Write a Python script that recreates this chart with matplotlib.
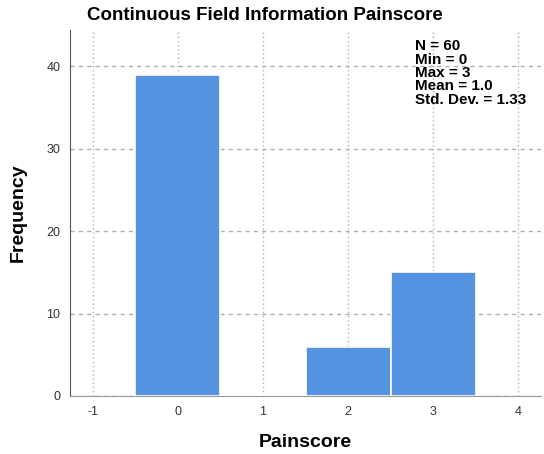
import matplotlib
matplotlib.use('Agg')
import matplotlib.pyplot as plt

# histogram data
scores = [0, 1, 2, 3]
counts = [39, 0, 6, 15]
x_ticks = [-1, 0, 1, 2, 3, 4]
y_ticks = [0, 10, 20, 30, 40]
stats_lines = ['N = 60', 'Min = 0', 'Max = 3', 'Mean = 1.0', 'Std. Dev. = 1.33']

bar_color = '#5593e1'
plt.rcParams['font.family'] = ['Liberation Sans', 'DejaVu Sans']
plt.rcParams['axes.unicode_minus'] = False

fig = plt.figure(figsize=(5.44, 4.54), dpi=100)
ax = fig.add_axes([70/544, 1 - 396/454, (541 - 70)/544, (396 - 30)/454])

ax.bar(scores, counts, width=1.0, color=bar_color, edgecolor='white',
       linewidth=1.2, zorder=3)

ax.set_xlim(-1.27, 4.27)
ax.set_ylim(0, 44.4)
ax.set_xticks(x_ticks)
ax.set_yticks(y_ticks)

ax.xaxis.grid(True, linestyle=(0, (1, 2)), color='#b0b0b0', linewidth=1.0, zorder=0)
ax.yaxis.grid(True, linestyle=(0, (3, 3)), color='#b0b0b0', linewidth=1.0, zorder=0)
ax.set_axisbelow(True)

for side in ['top', 'right']:
    ax.spines[side].set_visible(False)
ax.spines['left'].set_color('#555555')
ax.spines['bottom'].set_color('#999999')
ax.tick_params(length=0, labelsize=9, colors='#333333', pad=7)

ax.set_xlabel('Painscore', fontsize=14, fontweight='bold', labelpad=12)
ax.set_ylabel('Frequency', fontsize=14, fontweight='bold', labelpad=14)

fig.text(265/544, 1 - 15/454, 'Continuous Field Information Painscore',
         ha='center', va='center', fontsize=13.5, fontweight='bold')

ax.text(0.732, 0.975, '\n'.join(stats_lines), transform=ax.transAxes,
        ha='left', va='top', fontsize=11, fontweight='bold',
        linespacing=0.95, zorder=5)

fig.savefig('out.png', dpi=100)
